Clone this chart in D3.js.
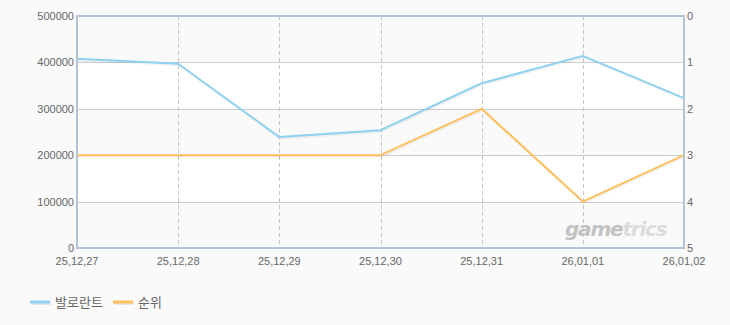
<!DOCTYPE html>
<html>
<head>
<meta charset="utf-8">
<script src="https://cdnjs.cloudflare.com/ajax/libs/d3/7.8.5/d3.min.js"></script>
<style>
  body { margin: 0; background: #fafafa; }
  svg { display: block; font-family: "Liberation Sans", Arial, sans-serif; }
</style>
</head>
<body>
<div id="chart"></div>
<script>
var dates = ['25,12,27', '25,12,28', '25,12,29', '25,12,30', '25,12,31', '26,01,01', '26,01,02'];
var valorant = [408000, 397000, 239000, 254000, 355000, 414000, 323000];
var rank = [3, 3, 3, 3, 2, 4, 3];
var left_ticks = [0, 100000, 200000, 300000, 400000, 500000];
var right_ticks = [0, 1, 2, 3, 4, 5];
var series_names = ['발로란트', '순위'];
var series_colors = ['#8fd1f0', '#ffbf5c'];

var width = 730, height = 325;
var margin = {left: 77, right: 46, top: 16, bottom: 77};
var inner_w = width - margin.left - margin.right;
var inner_h = height - margin.top - margin.bottom;

var svg = d3.select('#chart')
  .append('svg')
  .attr('width', width)
  .attr('height', height);

svg.append('rect')
  .attr('width', width)
  .attr('height', height)
  .attr('fill', '#fafafa');

var x = d3.scalePoint()
  .domain(dates)
  .range([0, inner_w]);

var y_left = d3.scaleLinear()
  .domain([0, 500000])
  .range([inner_h, 0]);

var y_right = d3.scaleLinear()
  .domain([0, 5])
  .range([0, inner_h]);

var g = svg.append('g')
  .attr('transform', 'translate(' + margin.left + ',' + margin.top + ')');

// alternating bands
g.selectAll('.band')
  .data(left_ticks.slice(0, -1))
  .enter()
  .append('rect')
  .attr('class', 'band')
  .attr('x', 0)
  .attr('width', inner_w)
  .attr('y', function(d) { return y_left(d + 100000); })
  .attr('height', function(d) { return y_left(d) - y_left(d + 100000); })
  .attr('fill', function(d, i) { return i % 2 === 0 ? '#fafafa' : '#ffffff'; });

// horizontal grid
g.selectAll('.hgrid')
  .data(left_ticks.slice(1, -1))
  .enter()
  .append('line')
  .attr('x1', 0)
  .attr('x2', inner_w)
  .attr('y1', function(d) { return Math.round(y_left(d)) + 0.5; })
  .attr('y2', function(d) { return Math.round(y_left(d)) + 0.5; })
  .attr('stroke', '#cccccc')
  .attr('stroke-width', 1);

// vertical dashed grid
g.selectAll('.vgrid')
  .data(dates.slice(1, -1))
  .enter()
  .append('line')
  .attr('x1', function(d) { return Math.round(x(d)) + 0.5; })
  .attr('x2', function(d) { return Math.round(x(d)) + 0.5; })
  .attr('y1', 0)
  .attr('y2', inner_h)
  .attr('stroke', '#c4c4c4')
  .attr('stroke-dasharray', '4,3');

// watermark
var wm = g.append('text')
  .attr('x', inner_w - 119)
  .attr('y', inner_h - 12)
  .style('font-family', '"DejaVu Sans", sans-serif')
  .style('font-style', 'italic')
  .style('font-weight', 'bold')
  .style('font-size', '20px')
  .style('letter-spacing', '-1.2px');
wm.append('tspan').attr('fill', '#c2c2c2').text('game');
wm.append('tspan').attr('fill', '#dcdcdc').text('trics');

var line_left = d3.line()
  .x(function(d, i) { return x(dates[i]); })
  .y(function(d) { return y_left(d); });

var line_right = d3.line()
  .x(function(d, i) { return x(dates[i]); })
  .y(function(d) { return y_right(d); });

var paths = [line_left(valorant), line_right(rank)];

// soft shadow under lines
paths.forEach(function(p) {
  g.append('path')
    .attr('d', p)
    .attr('fill', 'none')
    .attr('stroke', 'rgba(0,0,0,0.05)')
    .attr('stroke-width', 2)
    .attr('transform', 'translate(1,1.5)');
});

paths.forEach(function(p, i) {
  g.append('path')
    .attr('d', p)
    .attr('fill', 'none')
    .attr('stroke', series_colors[i])
    .attr('stroke-width', 2)
    .attr('stroke-linejoin', 'round');
});

// plot border
g.append('rect')
  .attr('x', 0)
  .attr('y', 0)
  .attr('width', inner_w)
  .attr('height', inner_h)
  .attr('fill', 'none')
  .attr('stroke', '#b3c4d6')
  .attr('stroke-width', 2);

// left axis labels
g.selectAll('.ylab')
  .data(left_ticks)
  .enter()
  .append('text')
  .attr('x', -3)
  .attr('y', function(d) { return y_left(d) + 4; })
  .attr('text-anchor', 'end')
  .attr('fill', '#666')
  .style('font-size', '11px')
  .text(function(d) { return d; });

// right axis labels
g.selectAll('.y2lab')
  .data(right_ticks)
  .enter()
  .append('text')
  .attr('x', inner_w + 3)
  .attr('y', function(d) { return y_right(d) + 4; })
  .attr('fill', '#666')
  .style('font-size', '11px')
  .text(function(d) { return d; });

// x labels
g.selectAll('.xlab')
  .data(dates)
  .enter()
  .append('text')
  .attr('x', function(d) { return x(d); })
  .attr('y', inner_h + 17)
  .attr('text-anchor', 'middle')
  .attr('fill', '#666')
  .style('font-size', '11px')
  .text(function(d) { return d; });

// legend
var legend_x = [30, 113];
series_names.forEach(function(name, i) {
  var lg = svg.append('g')
    .attr('transform', 'translate(' + legend_x[i] + ',302)');
  lg.append('line')
    .attr('x1', 1).attr('x2', 21)
    .attr('y1', 1.5).attr('y2', 1.5)
    .attr('stroke', 'rgba(0,0,0,0.08)')
    .attr('stroke-width', 3);
  lg.append('line')
    .attr('x1', 0).attr('x2', 20)
    .attr('y1', 0).attr('y2', 0)
    .attr('stroke', series_colors[i])
    .attr('stroke-width', 3);
  lg.append('text')
    .attr('x', 25)
    .attr('y', 5)
    .attr('fill', '#666')
    .style('font-family', '"Noto Sans CJK KR", sans-serif')
    .style('font-size', '13px')
    .text(name);
});
</script>
</body>
</html>
